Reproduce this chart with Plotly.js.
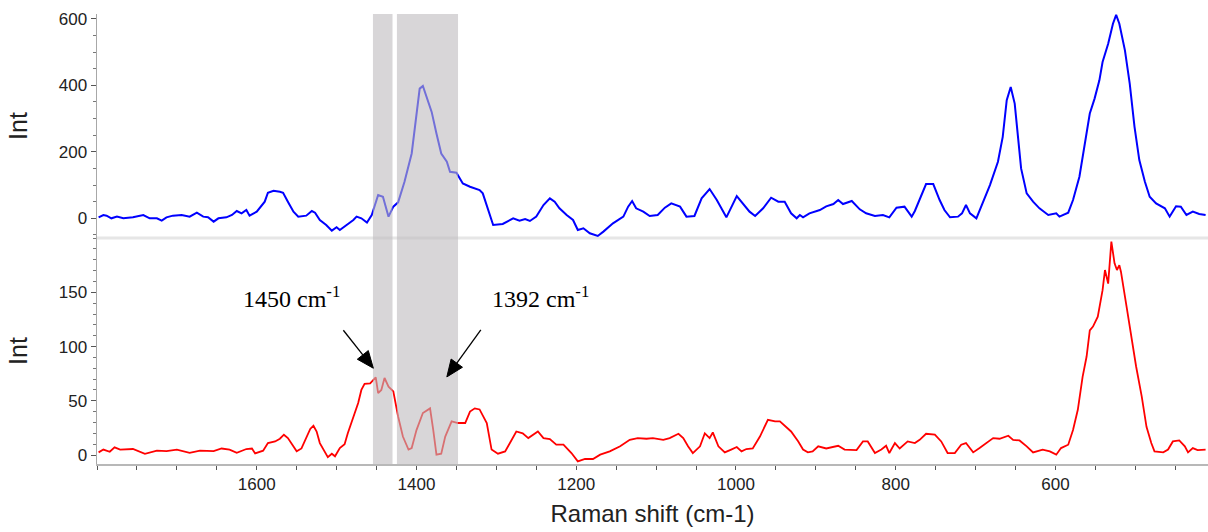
<!DOCTYPE html>
<html>
<head>
<meta charset="utf-8">
<script src="https://cdn.plot.ly/plotly-3.0.1.min.js"></script>
<style>html,body{margin:0;padding:0;background:#fff;}#chart{width:1208px;height:532px;}</style>
</head>
<body>
<div id="chart"></div>
<script>
// Top spectrum (blue): Raman shift (cm-1) and intensity
const blueX = [1798,1792,1788,1782,1775,1767,1755,1742,1734,1725,1719,1713,1705,1694,1684,1675,1667,1661,1654,1648,1638,1631,1625,1619,1613,1609,1600,1594,1590,1586,1579,1571,1567,1561,1554,1548,1538,1531,1527,1521,1513,1506,1500,1496,1490,1479,1475,1469,1462,1456,1448,1442,1435,1429,1423,1415,1406,1400,1396,1392,1387,1381,1375,1369,1362,1358,1350,1342,1333,1321,1317,1310,1304,1292,1279,1271,1264,1258,1250,1241,1233,1227,1221,1212,1204,1198,1191,1183,1173,1166,1154,1141,1135,1130,1125,1116,1108,1098,1089,1081,1070,1062,1052,1043,1033,1024,1012,999,991,983,976,966,956,947,939,931,924,920,916,908,895,887,878,872,866,855,845,837,826,816,808,799,789,780,776,770,762,753,745,739,732,722,717,712,707,699,693,682,672,666,661,656,651,647,643,636,628,620,609,599,595,584,578,570,563,557,551,545,541,534,528,524,520,513,507,501,495,488,482,474,463,457,449,443,436,428,420,412];
const blueY = [3,10,8,0,5,0,3,10,0,0,-7,3,8,10,5,17,5,3,-10,0,3,10,22,15,25,8,20,40,50,77,83,80,77,50,20,5,8,22,17,-5,-20,-37,-27,-35,-25,-5,5,0,-13,10,70,65,5,35,48,110,195,315,390,398,365,320,255,195,170,140,137,105,95,85,75,25,-20,-17,0,-7,-2,-8,5,40,60,50,30,10,-5,-35,-30,-45,-53,-40,-15,5,35,52,30,20,7,10,32,45,35,5,7,60,88,55,3,67,45,20,7,30,62,50,50,15,0,10,3,15,25,36,43,55,43,52,27,15,7,10,3,32,35,5,22,55,103,103,55,25,3,5,15,40,15,0,35,100,170,245,355,395,345,235,150,75,50,30,10,15,5,17,55,125,235,315,360,415,470,525,585,612,585,505,405,275,175,110,65,45,30,5,36,35,10,20,13,10];

// Bottom spectrum (red): Raman shift (cm-1) and intensity
const redX = [1798,1792,1784,1778,1771,1755,1740,1725,1713,1700,1684,1671,1654,1644,1634,1625,1613,1606,1602,1592,1586,1577,1571,1566,1561,1554,1550,1544,1538,1533,1529,1525,1521,1515,1511,1506,1502,1496,1490,1486,1479,1473,1469,1465,1458,1451,1448,1444,1440,1435,1429,1423,1417,1410,1406,1400,1392,1383,1379,1375,1369,1364,1356,1348,1339,1333,1327,1321,1312,1306,1298,1289,1283,1275,1267,1260,1248,1241,1233,1225,1216,1206,1198,1189,1179,1170,1158,1145,1133,1123,1112,1104,1091,1083,1072,1066,1060,1054,1045,1039,1033,1029,1022,1014,1006,999,993,987,979,970,960,951,945,937,931,922,916,910,904,897,887,872,864,849,841,835,826,818,812,808,801,795,785,776,770,762,751,743,735,726,718,712,703,695,687,678,670,659,653,645,636,628,616,607,599,593,584,578,572,566,561,557,553,547,541,538,534,530,526,523,520,518,511,505,499,492,486,480,476,465,459,453,445,438,434,428,422,412];
const redY = [2.4,5,3,7,5,5.5,1,4,3.5,5,2,4,3.5,6,5,2,5.5,6,1.5,4,11,12.5,15,18.7,15.6,8,3.4,6,15.6,24,27,21.7,11,3.4,-2,1.2,-1.2,6.4,10,20,34,48,60,65.6,66,71.5,57,60,71,63,58.6,35.5,17,5,6.4,23,38.7,43,23,0.3,1.2,17,31,29.5,29.5,40,43,42,29.5,5,1.2,3.3,11,21.7,20,15.6,21.7,15.6,14.7,9.5,9.5,1.8,-5.9,-3.7,-3.7,0.3,3.3,8,14,15.6,15,15.6,14,15.6,19.6,15.6,8,1.8,8,20,15.6,20.8,8,2.4,5,7.4,3.3,5.5,6,17,32.5,31,31,26,21.7,12.5,5,2.4,3.3,8,6,8.5,5,4.5,12.5,12.5,1.8,5,8.5,1.8,11,6,12.5,11,14,19.6,18.7,12.5,1.8,1.8,9.5,11,2.4,6.4,11,15.6,15,17.8,14,13.4,8,2.4,5,3.3,0.3,6.4,9.5,23,41.7,72,90.8,115,118.4,127.6,152,170.6,158,196.7,176.8,170.6,175,169,137,107.7,81.6,54,26,11,3.3,2.4,5,12.5,13.4,8,2.4,6.4,4.5,5];

// Axis ticks
const xTickVals = [1600, 1400, 1200, 1000, 800, 600];
const yTopTickVals = [0, 200, 400, 600];
const yBotTickVals = [0, 50, 100, 150];

// Highlighted bands (cm-1)
const bandStarts = [1454.5, 1424.5];
const bandEnds = [1430, 1348];

// Annotation labels and arrows (tip in data units of the lower panel)
const labelTexts = ['1450 cm<sup>-1</sup>', '1392 cm<sup>-1</sup>'];
const labelX = [1557, 1245];
const labelY = [146, 146];
const arrowTipX = [1454, 1362];
const arrowTipY = [80, 72];

// geometry
const W = 1208, H = 532, mL = 97, mR = 0, mT = 14, mB = 68;
const xRange = [1800, 409];
const y2Range = [-8.3, 200.1];
const splitFrac = (464 - 238) / 450;
const plotW = W - mL - mR, plotH = H - mT - mB;
const pxPerX = plotW / (xRange[0] - xRange[1]);          // px per cm-1 (reversed axis)
const pxPerY2 = (plotH * splitFrac) / (y2Range[1] - y2Range[0]);
// pixel offsets of arrow tails relative to tips
const tailDx = [-30, 34];
const tailDy = [-38, -47];

const traces = [
  {x: blueX, y: blueY, type: 'scatter', mode: 'lines', xaxis: 'x', yaxis: 'y',
   line: {color: '#0000ff', width: 2}, hoverinfo: 'skip'},
  {x: redX, y: redY, type: 'scatter', mode: 'lines', xaxis: 'x', yaxis: 'y2',
   line: {color: '#ff0000', width: 1.8}, hoverinfo: 'skip'}
];

const shapes = bandStarts.map((s, i) => ({
  type: 'rect', xref: 'x', yref: 'paper', x0: s, x1: bandEnds[i], y0: 0, y1: 1,
  fillcolor: 'rgba(190,186,190,0.6)', line: {width: 0}, layer: 'above'
}));
shapes.push({type: 'line', xref: 'paper', yref: 'paper', x0: 0, x1: 1, y0: splitFrac, y1: splitFrac,
  line: {color: '#e6e6e6', width: 3}, layer: 'below'});

// arrows as shapes (line + filled head)
function toData(tx, ty, dxPx, dyPx) {
  // screen x increases to the right => data decreases (reversed axis); screen y down => data decreases
  return [tx - dxPx / pxPerX, ty - dyPx / pxPerY2];
}
const headLen = 17, headHalf = 7;
arrowTipX.forEach((tx, i) => {
  const ty = arrowTipY[i];
  const dx = tailDx[i], dy = tailDy[i];
  const len = Math.sqrt(dx * dx + dy * dy);
  const ux = dx / len, uy = dy / len;           // unit vector tip -> tail (px)
  const nx = -uy, ny = ux;
  const tail = toData(tx, ty, dx, dy);
  const baseC = toData(tx, ty, ux * headLen, uy * headLen);
  const b1 = toData(tx, ty, ux * headLen + nx * headHalf, uy * headLen + ny * headHalf);
  const b2 = toData(tx, ty, ux * headLen - nx * headHalf, uy * headLen - ny * headHalf);
  shapes.push({type: 'line', xref: 'x', yref: 'y2', x0: tail[0], y0: tail[1], x1: baseC[0], y1: baseC[1],
    line: {color: '#000', width: 1.3}, layer: 'above'});
  shapes.push({type: 'path', xref: 'x', yref: 'y2',
    path: `M ${tx} ${ty} L ${b1[0]} ${b1[1]} L ${b2[0]} ${b2[1]} Z`,
    fillcolor: '#000', line: {color: '#000', width: 1}, layer: 'above'});
});

const annotations = labelTexts.map((t, i) => ({text: t, x: labelX[i], y: labelY[i], xref: 'x', yref: 'y2', showarrow: false,
  font: {family: 'Liberation Serif, Times New Roman, serif', size: 24, color: '#000'}}));

const tickFont = {family: 'Liberation Sans, Arial, sans-serif', size: 17, color: '#222'};
const titleFont = {family: 'Liberation Sans, Arial, sans-serif', size: 25, color: '#222'};

const layout = {
  width: W, height: H,
  margin: {l: mL, r: mR, t: mT, b: mB},
  paper_bgcolor: '#fff', plot_bgcolor: 'rgba(0,0,0,0)',
  showlegend: false,
  xaxis: {range: xRange, anchor: 'y2', showgrid: false, zeroline: false,
    showline: true, linecolor: '#b8b8b8', linewidth: 2,
    ticks: 'outside', ticklen: 4, tickcolor: '#555', tickwidth: 1,
    tickmode: 'array', tickvals: xTickVals, ticktext: xTickVals.map(String),
    minor: {tickmode: 'linear', tick0: 0, dtick: 50, ticks: 'outside', ticklen: 4, tickcolor: '#555'},
    tickfont: tickFont, automargin: false,
    title: {text: 'Raman shift (cm-1)', font: {family: 'Liberation Sans, Arial, sans-serif', size: 24, color: '#222'}, standoff: 12}},
  yaxis: {domain: [splitFrac, 1], range: [-59.2, 614.4], anchor: 'x', showgrid: false, zeroline: false,
    showline: true, linecolor: '#a8a8a8', linewidth: 1.5,
    ticks: 'outside', ticklen: 5, tickcolor: '#555',
    tickmode: 'array', tickvals: yTopTickVals, ticktext: yTopTickVals.map(String),
    minor: {tickmode: 'linear', tick0: 0, dtick: 50, ticks: 'outside', ticklen: 3, tickcolor: '#777'},
    tickfont: tickFont, automargin: false,
    title: {text: 'Int', font: titleFont, standoff: 24}},
  yaxis2: {domain: [0, splitFrac], range: y2Range, anchor: 'x', showgrid: false, zeroline: false,
    showline: true, linecolor: '#a8a8a8', linewidth: 1.5,
    ticks: 'outside', ticklen: 5, tickcolor: '#555',
    tickmode: 'array', tickvals: yBotTickVals, ticktext: yBotTickVals.map(String),
    minor: {tickmode: 'linear', tick0: 0, dtick: 10, ticks: 'outside', ticklen: 3, tickcolor: '#777'},
    tickfont: tickFont, automargin: false,
    title: {text: 'Int', font: titleFont, standoff: 24}},
  shapes: shapes,
  annotations: annotations
};

Plotly.newPlot('chart', traces, layout, {displayModeBar: false, staticPlot: true});
</script>
</body>
</html>
